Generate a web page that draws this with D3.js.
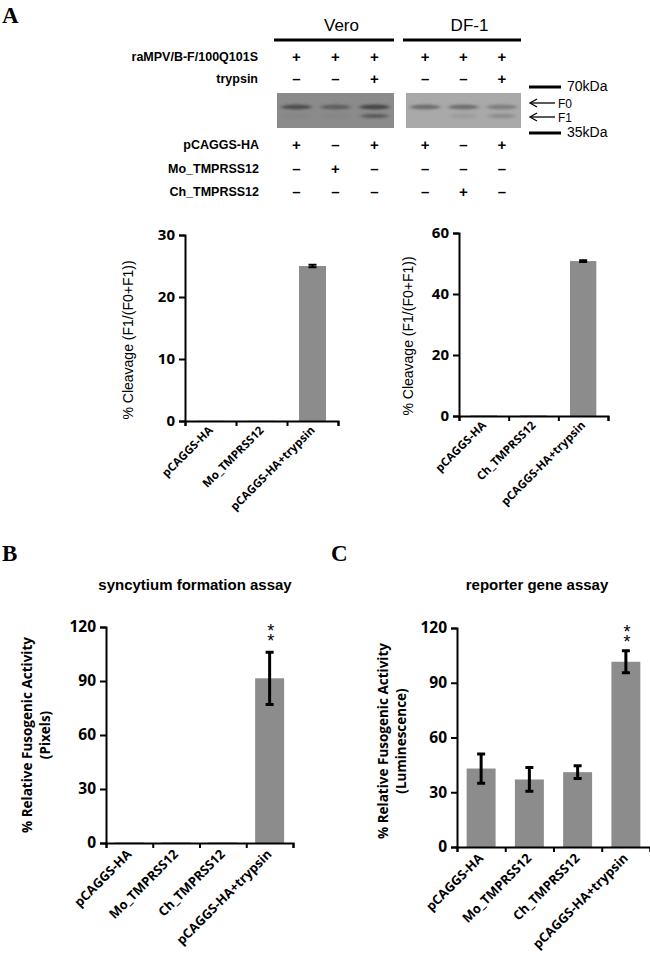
<!DOCTYPE html>
<html>
<head>
<meta charset="utf-8">
<script src="https://cdn.jsdelivr.net/npm/d3@7"></script>
<style>
  body { margin: 0; background: #fff; }
  svg { display: block; }
</style>
</head>
<body>
<script>
// data

var rowsTop = ["raMPV/B-F/100Q101S", "trypsin"];
var rowsBottom = ["pCAGGS-HA", "Mo_TMPRSS12", "Ch_TMPRSS12"];
// one string per row, one character per lane
var veroSigns = { "raMPV/B-F/100Q101S": "+++", "trypsin": "--+", "pCAGGS-HA": "+-+", "Mo_TMPRSS12": "-+-", "Ch_TMPRSS12": "---" };
var df1Signs  = { "raMPV/B-F/100Q101S": "+++", "trypsin": "--+", "pCAGGS-HA": "+-+", "Mo_TMPRSS12": "---", "Ch_TMPRSS12": "-+-" };
// band darkness 0..1 per lane
var veroF0 = [0.75, 0.55, 0.85];
var veroF1 = [0.08, 0.08, 0.6];
var df1F0 = [0.6, 0.6, 0.45];
var df1F1 = [0.0, 0.15, 0.3];

var veroCats = ["pCAGGS-HA", "Mo_TMPRSS12", "pCAGGS-HA+trypsin"];
var veroVals = [0.05, 0.05, 25.0];
var veroErr  = [0, 0, 0.2];

var df1Cats = ["pCAGGS-HA", "Ch_TMPRSS12", "pCAGGS-HA+trypsin"];
var df1Vals = [0.2, 0.2, 50.8];
var df1Err  = [0, 0, 0.3];

var fusionCats = ["pCAGGS-HA", "Mo_TMPRSS12", "Ch_TMPRSS12", "pCAGGS-HA+trypsin"];
var syncVals = [0.3, 0.3, 0.3, 91.5];
var syncErr  = [0, 0, 0, 14.5];
var reporterVals = [43, 37, 41, 101.5];
var reporterErr  = [8, 6.5, 3.5, 6];
var signif = ["", "", "", "**"];

var calibri = "'Open Sans', Lato, sans-serif";
var arial = "'Liberation Sans', Arial, sans-serif";
var narrow = "'Liberation Sans Narrow', 'Liberation Sans', Arial, sans-serif";
var barColor = "#8c8c8c";

var svg = d3.select("body").append("svg").attr("width", 650).attr("height", 957);
svg.append("rect").attr("width", 650).attr("height", 957).attr("fill", "#fff");

var defs = svg.append("defs");
defs.append("filter").attr("id", "band-blur").attr("x", "-50%").attr("y", "-200%").attr("width", "200%").attr("height", "500%")
  .append("feGaussianBlur").attr("stdDeviation", "2 1.2");

// panel letters
function panelLetter(txt, x, y) {
  svg.append("text").attr("x", x).attr("y", y).text(txt)
    .attr("font-family", "'Liberation Serif', 'DejaVu Serif', serif").attr("font-weight", "bold").attr("font-size", 23);
}
panelLetter("A", 2, 23);
panelLetter("B", 2, 561);
panelLetter("C", 331, 561);

// ---- western blot section ----

var rowTopY = d3.scalePoint().domain(rowsTop).range([57, 79]);
var rowBotY = d3.scalePoint().domain(rowsBottom).range([145, 192]);
var blotTop = 93, blotBottom = 128;
var f0Y = 107, f1Y = 116;

function blotGroup(name, x0, x1, signs, f0, f1, bg, bandCol) {
  var lane = d3.scaleBand().domain([0, 1, 2]).range([x0, x1]);
  // cell-line header
  svg.append("text").attr("x", (x0 + x1) / 2 + 6).attr("y", 31).attr("text-anchor", "middle")
    .attr("font-family", narrow).attr("font-size", 17).text(name);
  svg.append("line").attr("x1", x0 - 3).attr("x2", x1).attr("y1", 40).attr("y2", 40)
    .attr("stroke", "#000").attr("stroke-width", 3);

  // +/- rows
  function signRow(row, y) {
    svg.selectAll(null).data(signs[row].split("")).enter().append("text")
      .attr("x", function(d, i) { return lane(i) + lane.bandwidth() / 2; })
      .attr("y", y + 5)
      .attr("text-anchor", "middle")
      .attr("font-family", arial).attr("font-weight", "bold").attr("font-size", 15)
      .text(function(d) { return d === "+" ? "+" : "\u2013"; });
  }
  rowsTop.forEach(function(r) { signRow(r, rowTopY(r)); });
  rowsBottom.forEach(function(r) { signRow(r, rowBotY(r)); });

  // blot image
  svg.append("rect").attr("x", x0).attr("y", blotTop).attr("width", x1 - x0).attr("height", blotBottom - blotTop)
    .attr("fill", bg);
  var bands = svg.append("g").attr("filter", "url(#band-blur)");
  bands.selectAll(".f0").data(f0).enter().append("ellipse")
    .attr("cx", function(d, i) { return lane(i) + lane.bandwidth() / 2; })
    .attr("cy", f0Y).attr("rx", 15).attr("ry", 2.6)
    .attr("fill", bandCol).attr("fill-opacity", function(d) { return d; });
  bands.selectAll(".f1").data(f1).enter().append("ellipse")
    .attr("cx", function(d, i) { return lane(i) + lane.bandwidth() / 2; })
    .attr("cy", f1Y).attr("rx", 14).attr("ry", 2.2)
    .attr("fill", bandCol).attr("fill-opacity", function(d) { return d; });
}

blotGroup("Vero", 277, 394, veroSigns, veroF0, veroF1, "#8b8b8b", "#3a3a3a");
blotGroup("DF-1", 406, 521, df1Signs, df1F0, df1F1, "#a9a9a9", "#4a4a4a");

// row labels
svg.selectAll(null).data(rowsTop).enter().append("text")
  .attr("x", 258).attr("y", function(d) { return rowTopY(d) + 4; })
  .attr("text-anchor", "end").attr("font-family", narrow).attr("font-weight", "bold").attr("font-size", 12.5)
  .text(function(d) { return d; });
svg.selectAll(null).data(rowsBottom).enter().append("text")
  .attr("x", 259).attr("y", function(d) { return rowBotY(d) + 4; })
  .attr("text-anchor", "end").attr("font-family", narrow).attr("font-weight", "bold").attr("font-size", 12.5)
  .text(function(d) { return d; });

// size markers and band arrows
[["70kDa", 87], ["35kDa", 133]].forEach(function(m) {
  svg.append("line").attr("x1", 529).attr("x2", 561).attr("y1", m[1]).attr("y2", m[1])
    .attr("stroke", "#000").attr("stroke-width", 3);
  svg.append("text").attr("x", 567).attr("y", m[1] + 4).text(m[0])
    .attr("font-family", narrow).attr("font-size", 14);
});
[["F0", 103], ["F1", 117]].forEach(function(m) {
  svg.append("line").attr("x1", 531).attr("x2", 555).attr("y1", m[1]).attr("y2", m[1])
    .attr("stroke", "#000").attr("stroke-width", 1.3);
  svg.append("path").attr("d", "M" + 537 + "," + (m[1] - 4) + " L530," + m[1] + " L" + 537 + "," + (m[1] + 4))
    .attr("fill", "none").attr("stroke", "#000").attr("stroke-width", 1.3);
  svg.append("text").attr("x", 558).attr("y", m[1] + 4.5).text(m[0])
    .attr("font-family", narrow).attr("font-size", 12);
});

// ---- bar charts ----

function barChart(o) {
  var n = o.cats.length;
  var y = d3.scaleLinear().domain([0, o.max]).range([o.y0, o.y1]);
  var edge = d3.scaleLinear().domain([0, n]).range([o.x0, o.x1]);
  var x = d3.scaleBand().domain(o.cats).range([o.x0, o.x1]).paddingInner(0).paddingOuter(0);
  var bw = x.bandwidth() * o.barFrac;
  var g = svg.append("g");

  g.selectAll(".bar").data(o.vals).enter().append("rect")
    .attr("x", function(d, i) { return x(o.cats[i]) + (x.bandwidth() - bw) / 2; })
    .attr("y", function(d) { return y(d); })
    .attr("width", bw)
    .attr("height", function(d) { return y(0) - y(d); })
    .attr("fill", barColor);

  // error bars
  var eb = g.selectAll(".err").data(o.vals).enter().append("g")
    .attr("display", function(d, i) { return o.err[i] > 0 ? null : "none"; });
  eb.append("path")
    .attr("d", function(d, i) {
      var cx = x(o.cats[i]) + x.bandwidth() / 2, e = o.err[i], c = 4;
      var yt = y(d + e), yb = y(Math.max(0, d - e));
      return "M" + cx + "," + yt + "V" + yb + "M" + (cx - c) + "," + yt + "H" + (cx + c) + "M" + (cx - c) + "," + yb + "H" + (cx + c);
    })
    .attr("stroke", "#000").attr("stroke-width", o.errW).attr("fill", "none");

  // significance stars, stacked vertically in one text run
  if (o.sig) {
    o.sig.forEach(function(s, i) {
      if (!s) return;
      var cx = x(o.cats[i]) + x.bandwidth() / 2 + 1;
      g.append("text")
        .attr("transform", "translate(" + (cx - 3.5) + "," + (y(o.max) + 10) + ") rotate(90)")
        .attr("rotate", s.split("").map(function() { return -90; }).join(" "))
        .attr("letter-spacing", 3)
        .attr("font-family", arial).attr("font-size", 18).text(s);
    });
  }

  // y axis
  var ya = g.append("g").attr("transform", "translate(" + o.x0 + ",0)")
    .call(d3.axisLeft(y).tickValues(d3.range(0, o.max + 1, o.step)).tickSize(6).tickSizeOuter(6).tickPadding(4));
  ya.selectAll("path, line").attr("stroke", "#000").attr("stroke-width", 2);
  ya.selectAll("text").attr("font-family", calibri).attr("font-weight", "bold").attr("font-size", o.tickFont).attr("fill", "#000");

  // x axis: ticks at category boundaries
  var xa = g.append("g").attr("transform", "translate(0," + o.y0 + ")")
    .call(d3.axisBottom(edge).tickValues(d3.range(0, n + 1)).tickFormat("").tickSize(5).tickSizeOuter(5));
  xa.selectAll("path, line").attr("stroke", "#000").attr("stroke-width", 2);

  g.selectAll(".xl").data(o.cats).enter().append("text")
    .attr("transform", function(d) {
      return "translate(" + (x(d) + x.bandwidth() / 2 + 3) + "," + (o.y0 + o.labDy) + ") rotate(-45)";
    })
    .attr("text-anchor", "end")
    .attr("font-family", calibri).attr("font-weight", "bold").attr("font-size", o.catFont)
    .text(function(d) { return d; });

  // y label
  var yl = g.append("text").attr("transform", "translate(" + o.labX + "," + o.labY + ") rotate(-90)")
    .attr("text-anchor", "middle")
    .attr("font-family", o.labFamily).attr("font-weight", o.labWeight).attr("font-size", o.labFont);
  o.labLines.forEach(function(t, k) {
    yl.append("tspan").attr("x", 0).attr("dy", k === 0 ? 0 : o.labFont * 1.35).text(t);
  });

  if (o.title) {
    g.append("text").attr("x", o.titleX).attr("y", o.titleY).attr("text-anchor", "middle")
      .attr("font-family", arial).attr("font-weight", "bold").attr("font-size", 15).text(o.title);
  }
}

barChart({ cats: veroCats, vals: veroVals, err: veroErr, max: 30, step: 10,
  x0: 185, x1: 338, y0: 421, y1: 235, barFrac: 0.53, errW: 2,
  tickFont: 15, catFont: 11.5, labDy: 10,
  labLines: ["% Cleavage (F1/(F0+F1))"], labX: 133, labY: 340, labFamily: arial, labWeight: "normal", labFont: 14 });

barChart({ cats: df1Cats, vals: df1Vals, err: df1Err, max: 60, step: 20,
  x0: 459, x1: 608, y0: 416, y1: 233, barFrac: 0.53, errW: 2,
  tickFont: 15, catFont: 11.5, labDy: 10,
  labLines: ["% Cleavage (F1/(F0+F1))"], labX: 413, labY: 336, labFamily: arial, labWeight: "normal", labFont: 14 });

barChart({ cats: fusionCats, vals: syncVals, err: syncErr, max: 120, step: 30, sig: signif,
  x0: 106, x1: 293, y0: 843, y1: 627, barFrac: 0.62, errW: 3,
  tickFont: 15.5, catFont: 13, labDy: 12,
  labLines: ["% Relative Fusogenic Activity", "(Pixels)"], labX: 32, labY: 735, labFamily: calibri, labWeight: "bold", labFont: 13.5,
  title: "syncytium formation assay", titleX: 195, titleY: 590 });

barChart({ cats: fusionCats, vals: reporterVals, err: reporterErr, max: 120, step: 30, sig: signif,
  x0: 457, x1: 650, y0: 847, y1: 628, barFrac: 0.6, errW: 3,
  tickFont: 15.5, catFont: 13, labDy: 12,
  labLines: ["% Relative Fusogenic Activity", "(Luminescence)"], labX: 388, labY: 741, labFamily: calibri, labWeight: "bold", labFont: 13.5,
  title: "reporter gene assay", titleX: 537, titleY: 590 });
</script>
</body>
</html>
